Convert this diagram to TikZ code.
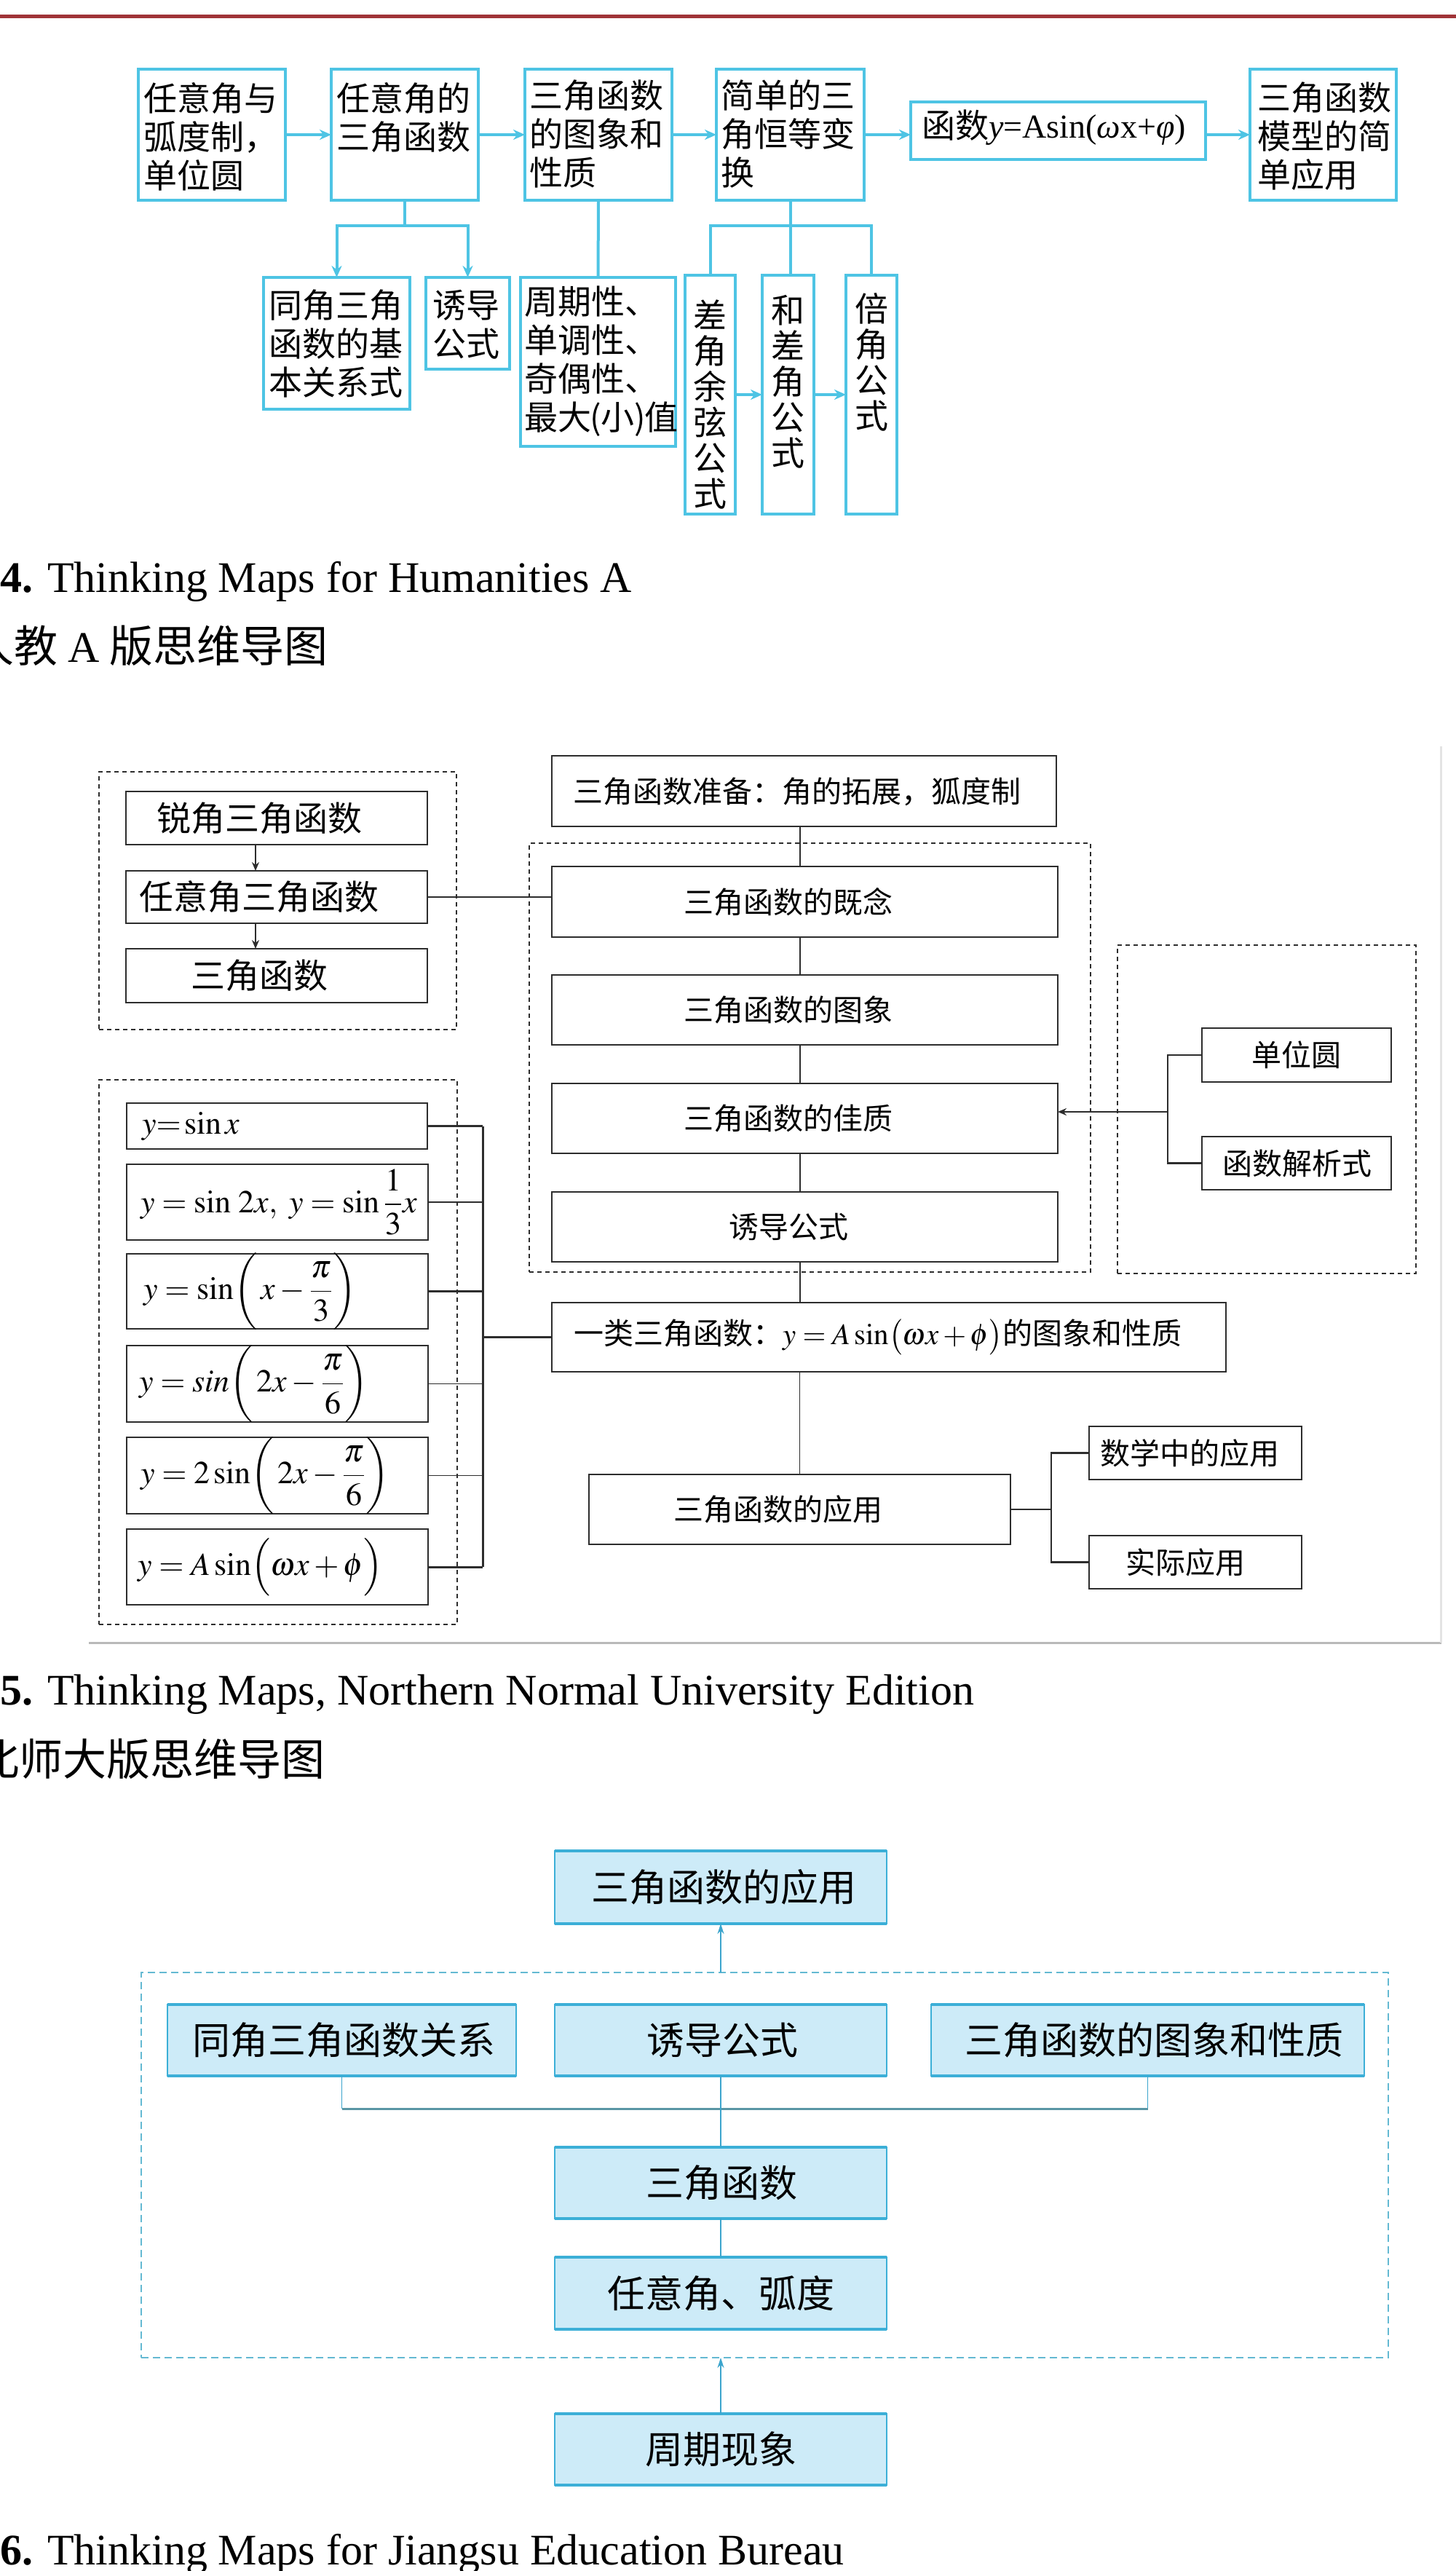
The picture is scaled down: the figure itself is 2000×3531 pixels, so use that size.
\documentclass[tikz,border=0pt]{standalone}
\usepackage{amsmath}
\usepackage{mathptmx}
\usepackage[no-math]{fontspec}
\setmainfont{Liberation Serif}
\newfontfamily\cjk{Noto Sans CJK SC}
\usetikzlibrary{arrows.meta,fit,calc}
\definecolor{tcyan}{RGB}{78,196,228}
\definecolor{redline}{RGB}{160,52,56}
\definecolor{dgray}{RGB}{45,45,45}
\definecolor{jfill}{RGB}{205,235,248}
\definecolor{jborder}{RGB}{60,175,215}
\definecolor{jline}{RGB}{60,165,205}
\definecolor{jdash}{RGB}{100,185,210}
\definecolor{jbar}{RGB}{90,150,165}
\definecolor{frameg}{RGB}{185,185,185}
\definecolor{frameg2}{RGB}{228,228,228}
\begin{document}
\begin{tikzpicture}[x=0.5pt,y=-0.5pt,
  every node/.style={inner sep=0pt, outer sep=0pt},
  box4/.style={draw=tcyan, line width=2pt},
  line4/.style={draw=tcyan, line width=2pt},
  arr4/.style={line4, -{Stealth[length=8pt,width=7pt]}},
  txt4/.style={font=\cjk\fontsize{23pt}{26.5pt}\selectfont, align=left, anchor=north west},
  vtxt4/.style={font=\cjk\fontsize{23pt}{24.5pt}\selectfont, align=center, anchor=north},
  box5/.style={draw=dgray, line width=1.3pt},
  dash5/.style={draw=dgray, line width=1pt, dash pattern=on 3pt off 2.5pt},
  line5/.style={draw=dgray, line width=0.8pt},
  thick5/.style={draw=dgray, line width=1.5pt},
  arr5/.style={line5, -{Stealth[length=6pt,width=5pt]}},
  t5L/.style={font=\cjk\fontsize{23.5pt}{28pt}\selectfont},
  t5R/.style={font=\cjk\fontsize{20.5pt}{24pt}\selectfont},
  math5/.style={font=\fontsize{22pt}{26pt}\selectfont, anchor=west},
  box6/.style={fill=jfill, draw=jborder, line width=1pt},
  t6/.style={font=\cjk\fontsize{26pt}{30pt}\selectfont},
  edge6/.style={draw=jborder, line width=2pt},
  dash6/.style={draw=jdash, line width=1pt, dash pattern=on 5pt off 3pt},
  line6/.style={draw=jline, line width=0.9pt},
  bar6/.style={draw=jbar, line width=1.5pt},
  arr6/.style={line6, -{Stealth[length=7pt,width=4.5pt]}, draw=jline, fill=jline},
  captxt/.style={font=\fontsize{30pt}{36pt}\selectfont, anchor=base west},
  capcjktxt/.style={font=\cjk\fontsize{30pt}{36pt}\selectfont, anchor=base west}
]
\useasboundingbox (0,0) rectangle (2000,3531);

% top rule
\draw[redline, line width=2.5pt] (0,23) -- (2000,23);

% ================= Figure 4 =================
\node[box4, fit={(190,95) (392,275)}] (a1) {};
\node[box4, fit={(455,95) (657,275)}] (a2) {};
\node[box4, fit={(721,95) (923,275)}] (a3) {};
\node[box4, fit={(984,95) (1187,275)}] (a4) {};
\node[box4, fit={(1251,140) (1656,219)}] (a5) {};
\node[box4, fit={(1717,95) (1918,275)}] (a6) {};

\node[txt4] (ta1) at (197,113) {任意角与\\弧度制，\\单位圆};
\node[txt4] (ta2) at (462,113) {任意角的\\三角函数};
\node[txt4] (ta3) at (727,110) {三角函数\\的图象和\\性质};
\node[txt4] (ta4) at (990,110) {简单的三\\角恒等变\\换};
\node[txt4, anchor=base west] (ta5) at (1266,190) {函数{\rmfamily\textit{y}=Asin(\textit{ω}x+\textit{φ})}};
\node[txt4] (ta6) at (1727,113) {三角函数\\模型的简\\单应用};

\node[box4, fit={(362,381) (563,562)}] (b1) {};
\node[box4, fit={(585,381) (700,507)}] (b2) {};
\node[box4, fit={(715,381) (928,613)}] (b3) {};
\node[box4, fit={(941,378) (1010,706)}] (c1) {};
\node[box4, fit={(1047,378) (1118,706)}] (c2) {};
\node[box4, fit={(1162,378) (1232,706)}] (c3) {};

\node[txt4] (tb1) at (369,398) {同角三角\\函数的基\\本关系式};
\node[txt4] (tb2) at (594,398) {诱导\\公式};
\node[txt4] (tb3) at (720,393) {周期性、\\单调性、\\奇偶性、\\最大\kern-1pt(小)\kern-1pt值};
\node[vtxt4] (tc1) at (975.5,412) {差\\角\\余\\弦\\公\\式};
\node[vtxt4] (tc2) at (1082.5,405) {和\\差\\角\\公\\式};
\node[vtxt4] (tc3) at (1197,402) {倍\\角\\公\\式};

\draw[arr4] (a1.east) -- (a2.west);
\draw[arr4] (a2.east) -- (a3.west);
\draw[arr4] (a3.east) -- (a4.west);
\draw[arr4] (a4.east) -- (a4.east -| a5.west);
\draw[arr4] (a5.east |- a6.west) -- (a6.west);

\coordinate (j1) at ($(a2.south)+(0,35)$);
\draw[line4] (a2.south) -- (j1);
\draw[arr4] (j1) -| (b1.north);
\draw[arr4] (j1) -| (b2.north);
\draw[line4] (a3.south) -- (b3.north);
\coordinate (j2) at ($(a4.south)+(0,35)$);
\draw[line4] (a4.south) -- (j2) -| (c1.north);
\draw[line4] (j2) -| (c3.north);
\draw[line4] (j2) -- (j2 |- c2.north);
\draw[arr4] (c1.east) -- (c2.west);
\draw[arr4] (c2.east) -- (c3.west);

\node[captxt] (cap4) at (0,813) {\textbf{4.} Thinking Maps for Humanities A};
\node[capcjktxt] (cap4b) at (-40,909) {人教 {\rmfamily A} 版思维导图};

% ================= Figure 5 =================
\node[dash5, fit={(136,1060) (627,1414)}] (gL1) {};
\node[box5, fit={(173,1087) (587,1160)}] (rj) {};
\node[box5, fit={(173,1196) (587,1268)}] (rjs) {};
\node[box5, fit={(173,1303) (587,1377)}] (sj) {};
\node[t5L] (trj) at (356,1123.5) {锐角三角函数};
\node[t5L] (trjs) at (356,1232) {任意角三角函数};
\node[t5L] (tsj) at (356,1340) {三角函数};
\coordinate (ax) at (351,0);
\draw[arr5] (rj.south -| ax) -- (rjs.north -| ax);
\draw[arr5] (rjs.south -| ax) -- (sj.north -| ax);

\node[box5, fit={(758,1038) (1451,1135)}] (pre) {};
\node[t5R] (tpre) at (1095,1087) {三角函数准备：角的拓展，狐度制};
\node[dash5, fit={(727,1158) (1498,1747)}] (gR) {};
\node[box5, fit={(758,1190) (1453,1287)}] (gn) {};
\node[box5, fit={(758,1339) (1453,1435)}] (tx) {};
\node[box5, fit={(758,1488) (1453,1584)}] (zhi) {};
\node[box5, fit={(758,1637) (1453,1733)}] (yd) {};
\node[t5R] (tgn) at (1083,1238.5) {三角函数的既念};
\node[t5R] (ttx) at (1083,1387) {三角函数的图象};
\node[t5R] (tzhi) at (1083,1536) {三角函数的佳质};
\node[t5R] (tyd) at (1083,1685) {诱导公式};

\node[dash5, fit={(1535,1298) (1945,1749)}] (gR2) {};
\node[box5, fit={(1651,1412) (1911,1486)}] (dw) {};
\node[box5, fit={(1651,1561) (1911,1634)}] (jx) {};
\node[t5R] (tdw) at (1781,1449) {单位圆};
\node[t5R] (tjx) at (1782,1597.5) {函数解析式};

\node[dash5, fit={(136,1483) (628,2231)}] (gL2) {};
\node[box5, fit={(174,1515) (587,1578)}] (f1) {};
\node[box5, fit={(174,1599) (588,1703)}] (f2) {};
\node[box5, fit={(174,1722) (588,1825)}] (f3) {};
\node[box5, fit={(174,1848) (588,1953)}] (f4) {};
\node[box5, fit={(174,1974) (588,2079)}] (f5) {};
\node[box5, fit={(174,2100) (588,2204)}] (f6) {};
\node[math5] (m1) at (195,1546.5) {$y{=}\sin x$};
\node[math5] (m2) at (193,1651) {$y=\sin\,2x,\ y=\sin\dfrac{1}{3}x$};
\node[math5] (m3) at (197,1773.5) {$y=\sin\biggl(\,x-\dfrac{\pi}{3}\biggr)$};
\node[math5] (m4) at (191,1900.5) {$y=sin\biggl(\,2x-\dfrac{\pi}{6}\biggr)$};
\node[math5] (m5) at (193,2026.5) {$y=2\sin\biggl(\,2x-\dfrac{\pi}{6}\biggr)$};
\node[math5] (m6) at (189,2152) {$y=A\sin\Bigl(\omega x+\phi\Bigr)$};

\node[box5, fit={(758,1789) (1684,1884)}] (lei) {};
\node[t5R] (tlei) at (1206,1836) {一类三角函数：$y=A\sin\bigl(\omega x+\phi\bigr)$的图象和性质};
\node[box5, fit={(809,2025) (1388,2121)}] (yy) {};
\node[t5R] (tyy) at (1069,2073) {三角函数的应用};
\node[box5, fit={(1496,1959) (1788,2032)}] (sx) {};
\node[box5, fit={(1496,2109) (1788,2182)}] (sjy) {};
\node[t5R] (tsx) at (1634,1995.5) {数学中的应用};
\node[t5R] (tsjy) at (1628,2145.5) {实际应用};

% connectors fig 5
\draw[line5] (rjs.east) -- (rjs.east -| gn.west);
\coordinate (cx) at (1099,0);
\draw[line5] (pre.south -| cx) -- (gn.north -| cx);
\draw[line5] (gn.south -| cx) -- (tx.north -| cx);
\draw[line5] (tx.south -| cx) -- (zhi.north -| cx);
\draw[line5] (zhi.south -| cx) -- (yd.north -| cx);
\draw[line5] (yd.south -| cx) -- (lei.north -| cx);
\draw[line5] (lei.south -| yy.north) -- (yy.north);

\coordinate (rbt) at (1604,1449);
\coordinate (rbb) at (1604,1597.5);
\coordinate (rbm) at (1604,1527);
\draw[line5, line width=1.1pt] (dw.west) -- (rbt) -- (rbb) -- (jx.west);
\draw[arr5, line width=1.1pt] (rbm) -- (rbm -| zhi.east);

\coordinate (lbt) at (663,1546.5);
\coordinate (lbb) at (663,2152);
\coordinate (lbm) at (663,1836.5);
\draw[thick5] (lbt) -- (lbb);
\draw[thick5] (f1.east) -- (lbt);
\draw[line5] (f2.east) -- (f2.east -| lbt);
\draw[thick5] (f3.east) -- (f3.east -| lbt);
\draw[line5] (f4.east) -- (f4.east -| lbt);
\draw[line5] (f5.east) -- (f5.east -| lbt);
\draw[thick5] (f6.east) -- (lbb);
\draw[thick5] (lbm) -- (lei.west);

\coordinate (abm) at (1444,2073);
\draw[line5, line width=1.1pt] (yy.east) -- (abm);
\draw[line5, line width=1.1pt] (sx.west) -| (abm) |- (sjy.west);

% page frame of figure 5
\draw[frameg, line width=1.5pt] (122,2256) -- (1980,2256);
\draw[frameg2, line width=1.5pt] (1979,1025) -- (1979,2256);

\node[captxt] (cap5) at (0,2341) {\textbf{5.} Thinking Maps, Northern Normal University Edition};
\node[capcjktxt] (cap5b) at (-33,2438) {北师大版思维导图};

% ================= Figure 6 =================
\node[dash6, fit={(194,2709) (1907,3238)}] (dr6) {};
\node[box6, fit={(762,2542) (1218,2642)}] (app6) {};
\node[box6, fit={(230,2753) (709,2851)}] (tj6) {};
\node[box6, fit={(762,2753) (1218,2851)}] (yd6) {};
\node[box6, fit={(1279,2753) (1874,2851)}] (tx6) {};
\node[box6, fit={(762,2949) (1218,3047)}] (sj6) {};
\node[box6, fit={(762,3100) (1218,3199)}] (ry6) {};
\node[box6, fit={(762,3315) (1218,3413)}] (zq6) {};
\foreach \n in {app6,tj6,yd6,tx6,sj6,ry6,zq6}{
  \draw[edge6] (\n.north west) -- (\n.north east);
  \draw[edge6] (\n.south west) -- (\n.south east);
}
\node[t6] (tapp6) at (994,2592) {三角函数的应用};
\node[t6] (ttj6) at (472,2802) {同角三角函数关系};
\node[t6] (tyd6) at (992,2802) {诱导公式};
\node[t6] (ttx6) at (1585,2802) {三角函数的图象和性质};
\node[t6] (tsj6) at (991,2998) {三角函数};
\node[t6] (try6) at (990,3149.5) {任意角、弧度};
\node[t6] (tzq6) at (990,3364) {周期现象};

\coordinate (hb) at (0,2896);
\draw[line6] (tj6.south) -- (tj6.south |- hb);
\draw[line6] (tx6.south) -- (tx6.south |- hb);
\draw[bar6] (tj6.south |- hb) -- (tx6.south |- hb);
\draw[line6] (yd6.south) -- (sj6.north);
\draw[line6] (sj6.south) -- (ry6.north);
\draw[arr6] (dr6.north -| app6.south) -- (app6.south);
\draw[arr6] (zq6.north) -- (zq6.north |- dr6.south);

\node[captxt] (cap6) at (0,3522) {\textbf{6.} Thinking Maps for Jiangsu Education Bureau};
\end{tikzpicture}
\end{document}
